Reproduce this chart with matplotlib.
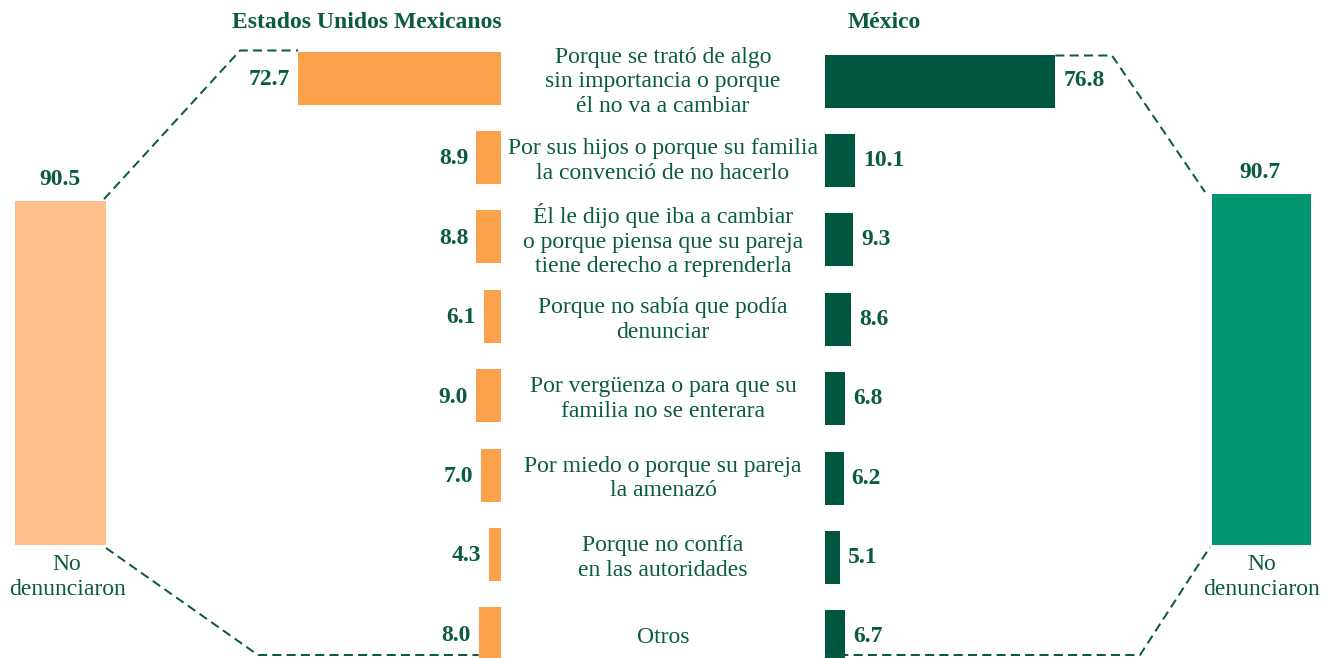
import matplotlib
matplotlib.use('Agg')
import matplotlib.pyplot as plt
from matplotlib.lines import Line2D
from matplotlib.transforms import blended_transform_factory

# ---------------- data ----------------
categories = [
    "Porque se trató de algo\nsin importancia o porque\nél no va a cambiar",
    "Por sus hijos o porque su familia\nla convenció de no hacerlo",
    "Él le dijo que iba a cambiar\no porque piensa que su pareja\ntiene derecho a reprenderla",
    "Porque no sabía que podía\ndenunciar",
    "Por vergüenza o para que su\nfamilia no se enterara",
    "Por miedo o porque su pareja\nla amenazó",
    "Porque no confía\nen las autoridades",
    "Otros",
]
eum_values = [72.7, 8.9, 8.8, 6.1, 9.0, 7.0, 4.3, 8.0]
mex_values = [76.8, 10.1, 9.3, 8.6, 6.8, 6.2, 5.1, 6.7]
eum_total = 90.5
mex_total = 90.7
total_label = "No\ndenunciaron"
titles = ["Estados Unidos Mexicanos", "México"]

# ---------------- style ----------------
plt.rcParams['font.family'] = ['Liberation Serif', 'DejaVu Serif']
TXT = '#0B5A43'
ORANGE = '#FBA04B'
LORANGE = '#FDC08A'
DGREEN = '#00563F'
GREEN = '#009670'
FS = 17
LS = 1.22

W, H = 1335, 658
fig = plt.figure(figsize=(W / 100, H / 100), dpi=100)


def px_rect(x0, y0, x1, y1):
    return [x0 / W, 1 - y1 / H, (x1 - x0) / W, (y1 - y0) / H]


n = len(categories)
pitch, bar_px = 79.4, 53
rowL0, rowR0 = 78, 81
ylimL = ((H - rowL0) / pitch, -rowL0 / pitch)
ylimR = ((H - rowR0) / pitch, -rowR0 / pitch)
bh = bar_px / pitch

# left reason bars
axL = fig.add_axes(px_rect(150, 0, 501, H))
axL.set_xlim((501 - 150) / 2.79, 0)
axL.set_ylim(*ylimL)
axL.barh(range(n), eum_values, height=bh, color=ORANGE)
for i, v in enumerate(eum_values):
    axL.annotate(f"{v:.1f}", (v, i + 0.02), xytext=(-8, 0), textcoords='offset pixels',
                 ha='right', va='center', fontsize=FS, fontweight='bold', color=TXT)

# right reason bars
axR = fig.add_axes(px_rect(825, 0, 1180, H))
axR.set_xlim(0, (1180 - 825) / 3.0)
axR.set_ylim(*ylimR)
axR.barh(range(n), mex_values, height=bh, color=DGREEN)
for i, v in enumerate(mex_values):
    axR.annotate(f"{v:.1f}", (v, i + 0.0), xytext=(8, 0), textcoords='offset pixels',
                 ha='left', va='center', fontsize=FS, fontweight='bold', color=TXT)

# big total bars
axBL = fig.add_axes(px_rect(0, 0, 140, 545))
axBL.set_xlim(0, 140)
axBL.set_ylim(0, 545 / 3.80)
axBL.bar([60.5], [eum_total], width=91, color=LORANGE)
axBL.annotate(f"{eum_total:.1f}", (60.5, eum_total), xytext=(0, 11), textcoords='offset pixels',
              ha='center', va='bottom', fontsize=FS, fontweight='bold', color=TXT)
axBL.annotate(total_label, (67, 0), xytext=(0, -9), textcoords='offset pixels',
              ha='center', va='top', fontsize=FS, color=TXT, linespacing=LS,
              annotation_clip=False)

axBR = fig.add_axes(px_rect(1180, 0, W, 545))
axBR.set_xlim(1180, W)
axBR.set_ylim(0, 545 / 3.87)
axBR.bar([1261.5], [mex_total], width=99, color=GREEN)
axBR.annotate(f"{mex_total:.1f}", (1260.5, mex_total), xytext=(0, 11), textcoords='offset pixels',
              ha='center', va='bottom', fontsize=FS, fontweight='bold', color=TXT)
axBR.annotate(total_label, (1261.5, 0), xytext=(0, -9), textcoords='offset pixels',
              ha='center', va='top', fontsize=FS, color=TXT, linespacing=LS,
              annotation_clip=False)

for ax in (axL, axR, axBL, axBR):
    ax.axis('off')

# category labels in the middle
tr = blended_transform_factory(fig.transFigure, axL.transData)
for i, c in enumerate(categories):
    fig.text(663 / W, i + 0.045, c, transform=tr, ha='center', va='center',
             fontsize=FS, color=TXT, linespacing=LS)

# titles
fig.text(367 / W, 1 - 23 / H, titles[0], ha='center', va='center', fontsize=FS,
         fontweight='bold', color=TXT)
fig.text(884 / W, 1 - 23 / H, titles[1], ha='center', va='center', fontsize=FS,
         fontweight='bold', color=TXT)

# dashed connectors (computed from bar geometry)
fig.canvas.draw()
inv = fig.transFigure.inverted()


def d(ax, x, y):
    return ax.transData.transform((x, y))


def connector(points):
    pts = inv.transform(points)
    fig.add_artist(Line2D(pts[:, 0], pts[:, 1], transform=fig.transFigure, color=TXT,
                          lw=1.45, linestyle=(0, (4.5, 2.6))))


top0 = d(axL, eum_values[0], 0 - bh / 2)
bl_tr = d(axBL, 60.5 + 45.5, eum_total)
bl_br = d(axBL, 60.5 + 45.5, 0)
bot_y = 3.0
last_left = d(axL, eum_values[-1], n - 1)[0]
connector([(bl_tr[0] - 2, bl_tr[1] + 2), (240, top0[1] + 1), (top0[0], top0[1] + 1)])
connector([(bl_br[0], bl_br[1] - 3), (258, bot_y), (last_left, bot_y)])

rtop0 = d(axR, mex_values[0], 0 - bh / 2)
r0 = d(axR, 0, n - 1)[0]
br_tl = d(axBR, 1261.5 - 49.5, mex_total)
br_bl = d(axBR, 1261.5 - 49.5, 0)
connector([(rtop0[0], rtop0[1] - 1), (1112, rtop0[1] - 1), (br_tl[0] - 7, br_tl[1] + 2)])
connector([(r0, bot_y), (1140, bot_y), (br_bl[0] - 2, br_bl[1] - 2)])

fig.savefig('out.png', dpi=100)
